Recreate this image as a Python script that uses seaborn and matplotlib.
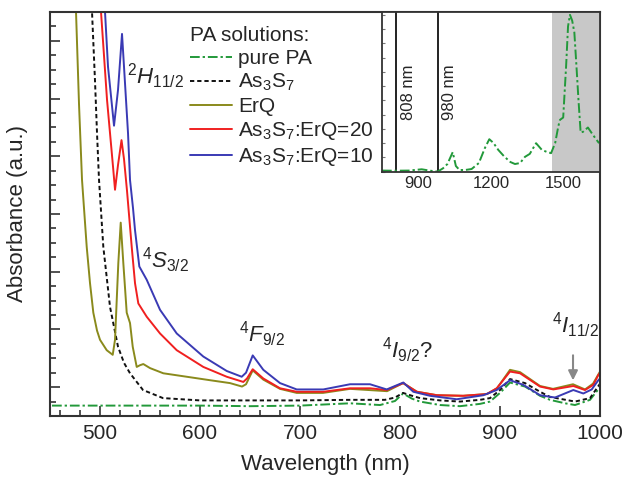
import numpy as np
import pandas as pd
import matplotlib
matplotlib.use("Agg")
import matplotlib.pyplot as plt
from matplotlib.ticker import MultipleLocator, NullFormatter
import seaborn as sns

# espectros principais (unidades arbitrarias)
pa_wl = [452, 500, 550, 600, 650, 700, 750, 780, 795, 803, 812, 820, 840, 860, 880, 890, 900, 910, 925,
         940, 950, 965, 975, 990, 1000]
pa_abs = [0.68, 0.68, 0.68, 0.68, 0.67, 0.68, 0.72, 0.69, 0.76, 0.89, 0.80, 0.75, 0.69, 0.67, 0.71, 0.75,
          0.90, 1.08, 1.01, 0.85, 0.78, 0.72, 0.69, 0.78, 1.00]

as_wl = [490, 492, 495, 497, 499, 503.3, 510, 518, 524, 530, 543, 563, 600, 650, 700, 750, 785, 795, 803,
         812, 820, 840, 860, 880, 890, 900, 910, 925, 940, 950, 975, 990, 1000]
as_abs = [8.0, 7.5, 6.3, 5.40, 4.59, 3.43, 2.39, 1.70, 1.42, 1.24, 0.95, 0.81, 0.77, 0.77, 0.77, 0.78, 0.78,
          0.82, 0.90, 0.85, 0.81, 0.77, 0.75, 0.78, 0.81, 0.95, 1.14, 1.07, 0.92, 0.83, 0.75, 0.81, 1.06]

erq_wl = [474, 476, 479, 482, 486.7, 490, 493.3, 497, 500, 506.7, 512.7, 515, 518.3, 520.7, 523.3, 526.7,
          530, 532.7, 536.7, 540, 543.3, 550, 563.3, 586.7, 610, 630, 642, 646, 652.7, 663.3, 680, 696.7,
          723, 750, 787, 803, 817, 837, 863, 887, 897, 910, 920, 940, 953, 973, 985, 993, 1000]
erq_abs = [8.0, 7.5, 5.9, 4.59, 3.43, 2.8, 2.29, 1.98, 1.82, 1.64, 1.56, 1.82, 3.15, 3.85, 3.15, 2.29,
           2.11, 1.70, 1.35, 1.38, 1.40, 1.33, 1.24, 1.18, 1.12, 1.07, 1.01, 1.05, 1.29, 1.13, 0.97, 0.90,
           0.90, 0.97, 0.93, 1.07, 0.92, 0.86, 0.85, 0.88, 0.98, 1.30, 1.26, 1.02, 0.97, 1.05, 0.96, 1.06, 1.27]

r20_wl = [499, 501, 507, 513, 515, 518, 521.5, 524, 527, 531.7, 535, 538.3, 546.7, 560, 576.7, 603.3,
          626.7, 643.3, 647, 652.7, 663.3, 680, 696.7, 723.3, 750, 770, 786.7, 803.3, 816.7, 836.7, 863.3,
          886.7, 896.7, 910, 920, 940, 953.3, 973.3, 985, 993.3, 998.3, 1000]
r20_abs = [8.0, 7.5, 5.98, 4.82, 4.42, 4.85, 5.28, 4.95, 4.4, 3.43, 2.8, 2.45, 2.22, 1.93, 1.64, 1.35,
           1.18, 1.09, 1.15, 1.31, 1.15, 0.98, 0.92, 0.92, 0.98, 0.98, 0.95, 1.07, 0.92, 0.86, 0.85, 0.88,
           0.98, 1.27, 1.24, 1.01, 0.96, 1.02, 0.95, 1.04, 1.21, 1.25]

r10_wl = [503, 505, 508, 514, 518, 522, 524, 528, 530, 533, 535, 539.3, 546.7, 560, 576.7, 603.3, 626.7,
          641.7, 646, 652.7, 663.3, 680, 696.7, 723.3, 750, 770, 786.7, 803.3, 813.3, 830, 856.7, 883.3,
          896.7, 910, 923.3, 940, 955, 973.3, 983.3, 991.7, 998.3, 1000]
r10_abs = [8.0, 7.5, 6.55, 5.53, 6.15, 7.12, 6.55, 5.40, 4.59, 4.1, 3.72, 3.09, 2.86, 2.34, 1.93, 1.53,
           1.28, 1.18, 1.25, 1.55, 1.30, 1.07, 0.96, 0.96, 1.05, 1.05, 0.96, 1.08, 0.92, 0.85, 0.79, 0.86,
           0.95, 1.12, 1.04, 0.86, 0.82, 0.95, 0.89, 0.96, 1.12, 1.15]

# inset: PA puro ate 1650 nm
ins_wl = [750, 800, 860, 914, 950, 980, 1002, 1020, 1042, 1055, 1070, 1093, 1120, 1150, 1175, 1193, 1210,
          1230, 1255, 1280, 1299, 1320, 1340, 1360, 1386, 1410, 1430, 1448, 1465, 1478, 1485, 1498, 1510,
          1518, 1526, 1535, 1544, 1552, 1561, 1570, 1580, 1600, 1620, 1646]
ins_abs = [0.08, 0.07, 0.08, 0.17, 0.07, 0.01, 0.24, 0.54, 1.37, 0.40, 0.12, 0.12, 0.19, 0.61, 1.67, 2.28,
           2.02, 1.53, 1.06, 0.68, 0.54, 0.61, 1.04, 1.25, 2.00, 1.53, 1.39, 1.30, 2.02, 3.2, 3.64, 3.8, 7.4,
           10.2, 11.0, 10.6, 9.77, 7.6, 5.05, 2.75, 2.8, 3.1, 2.6, 2.0]

laser_lines = [808, 980]
laser_labels = ["808 nm", "980 nm"]

sns.set_theme(style="ticks")
plt.rcParams["font.family"] = ["Liberation Sans", "DejaVu Sans"]
plt.rcParams["mathtext.fontset"] = "custom"
plt.rcParams["mathtext.rm"] = "Liberation Sans"
plt.rcParams["mathtext.it"] = "Liberation Sans:italic"
plt.rcParams["mathtext.bf"] = "Liberation Sans:bold"

fig = plt.figure(figsize=(6.26, 4.87), dpi=100)
ax = fig.add_axes([0.0799, 0.1458, 0.8786, 0.8296])

c_pa = "#22993a"
c_erq = "#8a8a1c"
c_r20 = "#f02020"
c_r10 = "#3a3ab4"
dashdot = (0, (5, 1.5, 1.2, 1.5))

series = [
    (pa_wl, pa_abs, c_pa, dashdot, "pure PA"),
    (as_wl, as_abs, "#111111", (0, (2.2, 1.5)), "As$_3$S$_7$"),
    (erq_wl, erq_abs, c_erq, "-", "ErQ"),
    (r20_wl, r20_abs, c_r20, "-", "As$_3$S$_7$:ErQ=20"),
    (r10_wl, r10_abs, c_r10, "-", "As$_3$S$_7$:ErQ=10"),
]
for wl, ab, col, ls, lab in series:
    df = pd.DataFrame({"wl": wl, "abs": ab})
    sns.lineplot(data=df, x="wl", y="abs", ax=ax, color=col, linestyle=ls, lw=1.4,
                 sort=False, estimator=None, label=lab)

ax.set_xlim(450, 1000)
ax.set_ylim(0.5, 7.5)
ax.xaxis.set_major_locator(MultipleLocator(100))
ax.xaxis.set_minor_locator(MultipleLocator(20))
ax.yaxis.set_major_locator(MultipleLocator(1))
ax.yaxis.set_minor_locator(MultipleLocator(0.25))
ax.yaxis.set_major_formatter(NullFormatter())
ax.tick_params(which="both", direction="in", width=1.2, color="#333333", labelsize=15)
ax.tick_params(which="major", length=7)
ax.tick_params(which="minor", length=4)
ax.tick_params(axis="x", pad=6)
for s in ax.spines.values():
    s.set_linewidth(1.5)
    s.set_color("#333333")
ax.set_xlabel("Wavelength (nm)", fontsize=16, labelpad=8)
ax.set_ylabel("Absorbance (a.u.)", fontsize=16, labelpad=12)

leg = ax.legend(title="PA solutions:", loc="upper left", bbox_to_anchor=(0.2545, 0.965),
                frameon=False, fontsize=15, title_fontsize=15, handlelength=2.0,
                handletextpad=0.3, labelspacing=0.19, borderpad=0, borderaxespad=0,
                alignment="left")

# niveis do Er3+
fs = 16
ax.text(527, 6.25, r"$^{2}H_{11/2}$", fontsize=fs)
ax.text(542, 3.06, r"$^{4}S_{3/2}$", fontsize=fs)
ax.text(639, 1.78, r"$^{4}F_{9/2}$", fontsize=fs)
ax.text(782, 1.50, r"$^{4}I_{9/2}$?", fontsize=fs)
ax.text(952, 1.94, r"$^{4}I_{11/2}$", fontsize=fs)
ax.annotate("", xy=(973, 1.07), xytext=(973, 1.60),
            arrowprops=dict(arrowstyle="-|>", color="#888888", lw=1.5, mutation_scale=14))

# inset
axi = fig.add_axes([0.6102, 0.6474, 0.3483, 0.3280])
axi.axvspan(1450, 1650, color="#c8c8c8", lw=0)
for wl0, lab in zip(laser_lines, laser_labels):
    axi.axvline(wl0, color="#111111", lw=1.3)
    axi.text(wl0 + 50, 5.6, lab, rotation=90, fontsize=12, ha="center", va="center")
sns.lineplot(x=ins_wl, y=ins_abs, ax=axi, color=c_pa, linestyle=dashdot, lw=1.4,
             sort=False, estimator=None)
axi.set_xlim(750, 1650)
axi.set_ylim(0, 11.2)
axi.set_xticks([900, 1200, 1500])
axi.yaxis.set_major_locator(MultipleLocator(1))
axi.yaxis.set_major_formatter(NullFormatter())
axi.tick_params(axis="y", direction="in", length=2.5, width=0.8, color="#777777")
axi.tick_params(axis="x", direction="in", length=0, labelsize=12, pad=3)
for s in axi.spines.values():
    s.set_linewidth(1.3)
    s.set_color("#333333")
axi.set_xlabel("")
axi.set_ylabel("")

fig.savefig("out.png", dpi=100)
